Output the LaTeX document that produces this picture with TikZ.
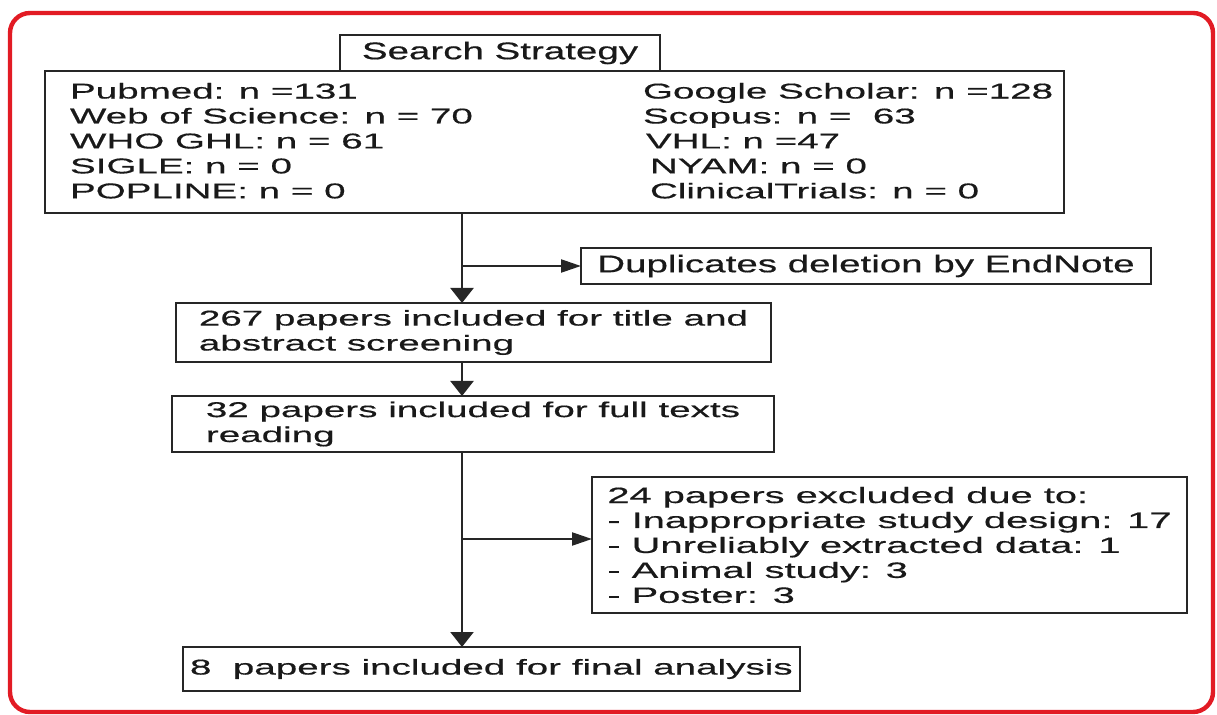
\documentclass[tikz,border=0pt]{standalone}
\usepackage{fontspec}
\setmainfont{Liberation Sans}[FakeStretch=1.8, FakeBold=0.5]
\newfontfamily\tallfont{Liberation Sans}[FakeStretch=1.6, FakeBold=0.5]
\usetikzlibrary{positioning, arrows.meta}
\definecolor{framered}{RGB}{226,27,36}

\begin{document}
\begin{tikzpicture}[
    node distance=0.25cm,
    every node/.style={rectangle, inner sep=0pt, outer sep=0pt, text=black!90},
    box/.style={draw=black!85, line width=1.3pt, align=left, font=\fontsize{12.2}{14.2}\selectfont},
    tallbox/.style={draw=black!85, line width=1.3pt, font=\tallfont\fontsize{13.7}{16}\selectfont},
    column/.style={align=left, font=\fontsize{12.2}{14.2}\selectfont},
    varrow/.style={-{Triangle[width=0.46cm, length=0.3cm]}, line width=1.3pt, draw=black!85},
    harrow/.style={-{Triangle[width=0.26cm, length=0.4cm]}, line width=1.3pt, draw=black!85},
    redframe/.style={draw=framered, line width=2.5pt, rounded corners=0.4cm}
]
\useasboundingbox (0,0) rectangle (24.34,-14.3);
\draw[redframe] (0.2,-0.26) rectangle (24.26,-14.24);

\node[box, minimum width=20.38cm, minimum height=2.84cm] (2) at (11.09,-2.84) {};
\node[tallbox, minimum width=6.4cm, minimum height=0.72cm, above=0pt of 2.north, xshift=-1.09cm] (1) {Search Strategy};
\node[column, anchor=north west] (2a) at ([xshift=0.5cm, yshift=-0.24cm]2.north west)
    {Pubmed: n =131\\Web of Science: n = 70\\WHO GHL: n = 61\\SIGLE: n = 0\\POPLINE: n = 0};
\node[column, anchor=north west] (2b) at ([xshift=11.96cm, yshift=-0.24cm]2.north west)
    {Google Scholar: n =128\\Scopus: n =\ \ 63\\\hspace*{0.06cm}VHL: n =47\\\hspace*{0.14cm}NYAM: n = 0\\\hspace*{0.14cm}ClinicalTrials: n = 0};

\node[tallbox, minimum width=11.4cm, minimum height=0.72cm] (7) at (17.32,-5.32) {Duplicates deletion by EndNote};
\node[box, minimum width=11.9cm, minimum height=1.18cm] (3) at (9.47,-6.65) {267 papers included for title and\\abstract screening};
\node[box, minimum width=12.04cm, minimum height=1.12cm] (4) at (9.46,-8.48) {32 papers included for full texts\\reading};
\node[box, font=\fontsize{12.6}{14.2}\selectfont, minimum width=11.9cm, minimum height=2.72cm] (5) at (17.79,-10.9)
    {24 papers excluded due to:\\- Inappropriate study design: 17\\- Unreliably extracted data: 1\\- Animal study: 3\\- Poster: 3};
\node[box, inner xsep=0.14cm, minimum height=0.88cm, anchor=west] (6) at (3.66,-13.38) {8\ \ papers included for final analysis};

\coordinate (spine) at (9.24,0);
\draw[varrow] (2.south -| spine) -- (3.north -| spine);
\draw[harrow] (spine |- 7.west) -- (7.west);
\draw[varrow] (3.south -| spine) -- (4.north -| spine);
\draw[varrow] (4.south -| spine) -- (6.north -| spine);
\draw[harrow] ([yshift=0.12cm]spine |- 5.west) -- ([yshift=0.12cm]5.west);
\end{tikzpicture}
\end{document}
